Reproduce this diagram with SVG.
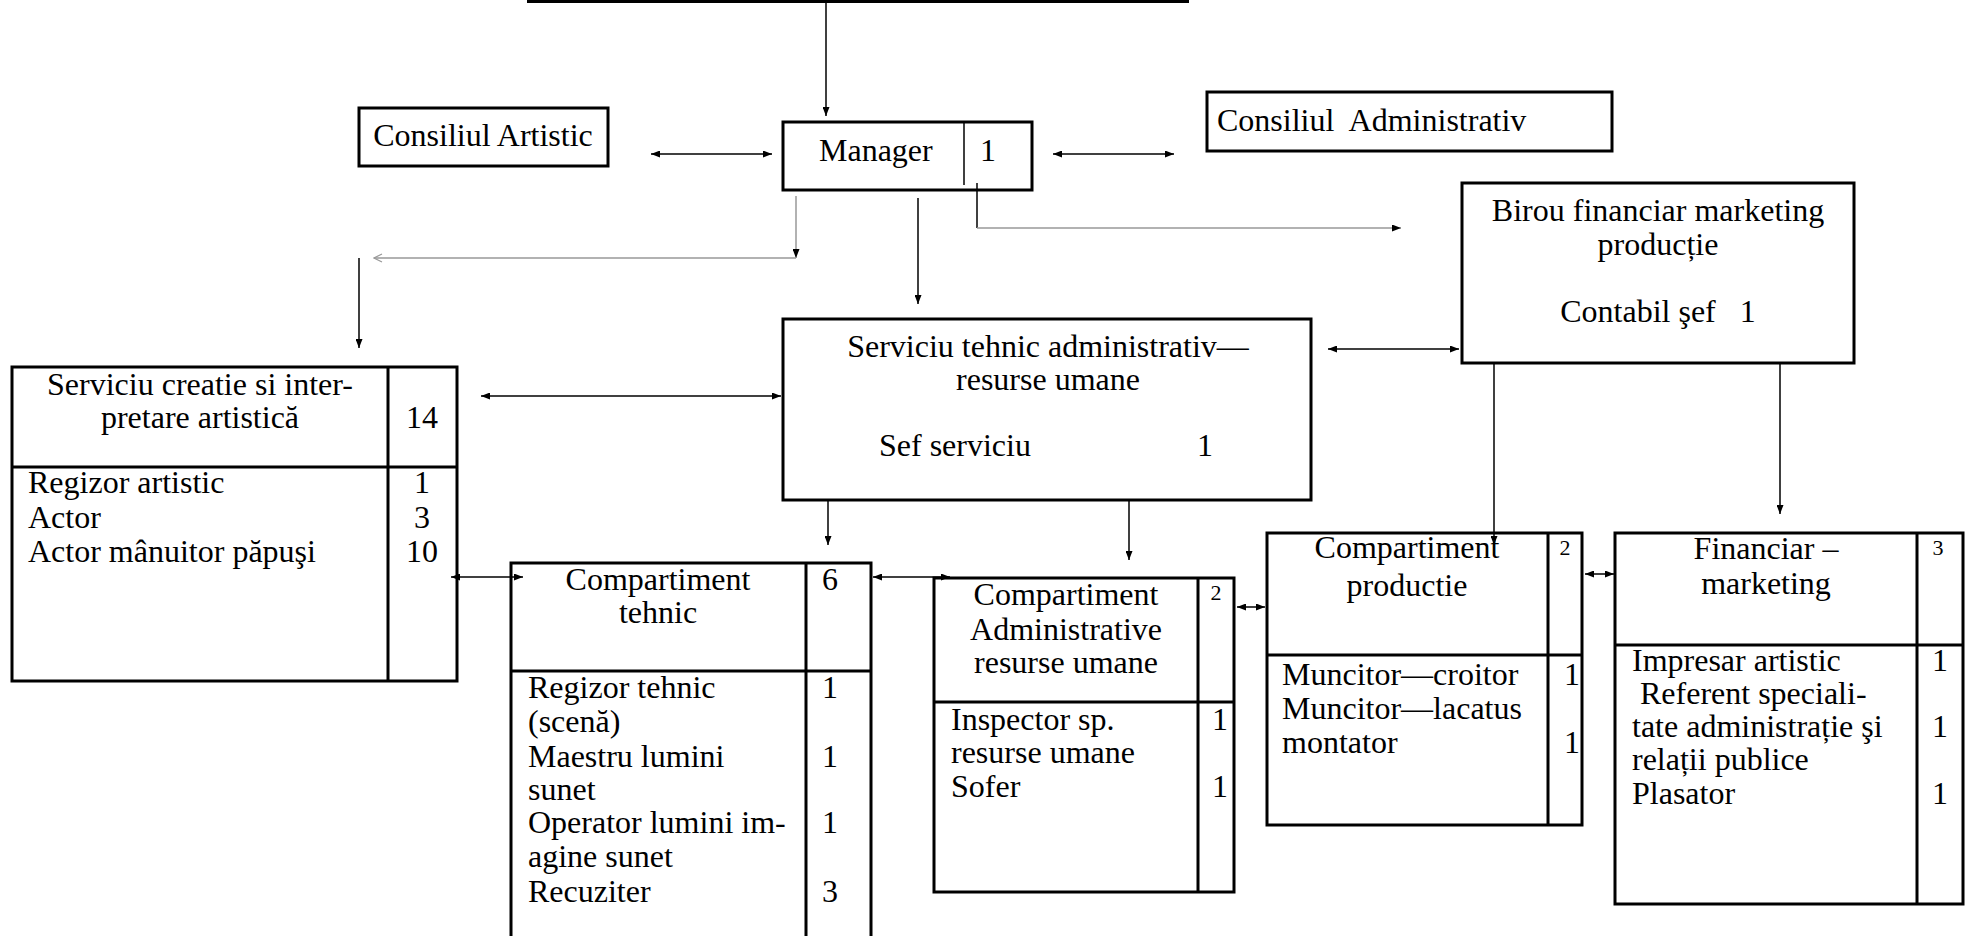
<svg xmlns="http://www.w3.org/2000/svg" width="1975" height="936" viewBox="0 0 1975 936">
<style>
.box{fill:none;stroke:#000;stroke-width:3}
.div{stroke:#000;stroke-width:3}
.thin{stroke:#000;stroke-width:1.5}
.ln{stroke:#000;stroke-width:1.5;fill:none}
.gl{stroke:#999;stroke-width:1.5;fill:none}
text{font-family:"Liberation Serif","Times New Roman",serif;font-size:32px;fill:#000;white-space:pre}
.c{text-anchor:middle}
.sm{font-size:22px}
</style>
<defs>
<marker id="ah" markerUnits="userSpaceOnUse" markerWidth="9" markerHeight="7" refX="9" refY="3.5" orient="auto-start-reverse"><path d="M0,0 L9,3.5 L0,7 z" fill="#000"/></marker>
<marker id="oh" markerUnits="userSpaceOnUse" markerWidth="10" markerHeight="10" refX="9" refY="5" orient="auto"><path d="M1,1 L9,5 L1,9" fill="none" stroke="#999" stroke-width="1.2"/></marker>
</defs>

<g id="top-node"><line x1="527" y1="1.5" x2="1189" y2="1.5" class="div"/></g>

<g id="consiliul-artistic">
<rect class="box" x="359" y="108" width="249" height="58"/>
<text class="c" x="483" y="146">Consiliul Artistic</text>
</g>

<g id="manager">
<rect class="box" x="783" y="122" width="249" height="68"/>
<line class="thin" x1="964" y1="122" x2="964" y2="185"/>
<text x="819" y="161">Manager</text>
<text x="980" y="161">1</text>
</g>

<g id="consiliul-administrativ">
<rect class="box" x="1207" y="92" width="405" height="59"/>
<text x="1217" y="131">Consiliul  Administrativ</text>
</g>

<g id="birou">
<rect class="box" x="1462" y="183" width="392" height="180"/>
<text class="c" x="1658" y="221">Birou financiar marketing</text>
<text class="c" x="1658" y="255">producție</text>
<text class="c" x="1658" y="322">Contabil şef   1</text>
</g>

<g id="serviciu-tehnic">
<rect class="box" x="783" y="319" width="528" height="181"/>
<text class="c" x="1048" y="357">Serviciu tehnic administrativ—</text>
<text class="c" x="1048" y="390">resurse umane</text>
<text x="879" y="456">Sef serviciu</text>
<text x="1197" y="456">1</text>
</g>

<g id="serviciu-creatie">
<rect class="box" x="12" y="367" width="445" height="314"/>
<line class="div" x1="388" y1="367" x2="388" y2="681"/>
<line class="div" x1="12" y1="467" x2="457" y2="467"/>
<text class="c" x="200" y="395">Serviciu creatie si inter-</text>
<text class="c" x="200" y="428">pretare artistică</text>
<text class="c" x="422" y="428">14</text>
<text x="28" y="493">Regizor artistic</text>
<text x="28" y="528">Actor</text>
<text x="28" y="562">Actor mânuitor păpuşi</text>
<text class="c" x="422" y="493">1</text>
<text class="c" x="422" y="528">3</text>
<text class="c" x="422" y="562">10</text>
</g>

<g id="compartiment-tehnic">
<rect class="box" x="511" y="563" width="360" height="400"/>
<line class="div" x1="806" y1="563" x2="806" y2="940"/>
<line class="div" x1="511" y1="671" x2="871" y2="671"/>
<text class="c" x="658" y="590">Compartiment</text>
<text class="c" x="658" y="623">tehnic</text>
<text class="c" x="830" y="590">6</text>
<text x="528" y="698">Regizor tehnic</text>
<text x="528" y="732">(scenă)</text>
<text x="528" y="767">Maestru lumini</text>
<text x="528" y="800">sunet</text>
<text x="528" y="833">Operator lumini im-</text>
<text x="528" y="867">agine sunet</text>
<text x="528" y="902">Recuziter</text>
<text class="c" x="830" y="698">1</text>
<text class="c" x="830" y="767">1</text>
<text class="c" x="830" y="833">1</text>
<text class="c" x="830" y="902">3</text>
</g>

<g id="compartiment-administrative">
<rect class="box" x="934" y="578" width="300" height="314"/>
<line class="div" x1="1198" y1="578" x2="1198" y2="892"/>
<line class="div" x1="934" y1="702" x2="1234" y2="702"/>
<text class="c" x="1066" y="605">Compartiment</text>
<text class="c" x="1066" y="640">Administrative</text>
<text class="c" x="1066" y="673">resurse umane</text>
<text class="c sm" x="1216" y="600">2</text>
<text x="951" y="730">Inspector sp.</text>
<text x="951" y="763">resurse umane</text>
<text x="951" y="797">Sofer</text>
<text class="c" x="1220" y="730">1</text>
<text class="c" x="1220" y="797">1</text>
</g>

<g id="compartiment-productie">
<rect class="box" x="1267" y="533" width="315" height="292"/>
<line class="div" x1="1548" y1="533" x2="1548" y2="825"/>
<line class="div" x1="1267" y1="655" x2="1582" y2="655"/>
<text class="c" x="1407" y="558">Compartiment</text>
<text class="c" x="1407" y="596">productie</text>
<text class="c sm" x="1565" y="555">2</text>
<text x="1282" y="685">Muncitor—croitor</text>
<text x="1282" y="719">Muncitor—lacatus</text>
<text x="1282" y="753">montator</text>
<text class="c" x="1572" y="685">1</text>
<text class="c" x="1572" y="753">1</text>
</g>

<g id="financiar-marketing">
<rect class="box" x="1615" y="533" width="348" height="371"/>
<line class="div" x1="1917" y1="533" x2="1917" y2="904"/>
<line class="div" x1="1615" y1="645" x2="1963" y2="645"/>
<text class="c" x="1766" y="559">Financiar –</text>
<text class="c" x="1766" y="594">marketing</text>
<text class="c sm" x="1938" y="555">3</text>
<text x="1632" y="671">Impresar artistic</text>
<text x="1632" y="704"> Referent speciali-</text>
<text x="1632" y="737">tate administrație şi</text>
<text x="1632" y="770">relații publice</text>
<text x="1632" y="804">Plasator</text>
<text class="c" x="1940" y="671">1</text>
<text class="c" x="1940" y="737">1</text>
<text class="c" x="1940" y="804">1</text>
</g>

<g id="connectors">
<line class="ln" x1="826" y1="3" x2="826" y2="116" marker-end="url(#ah)"/>
<line class="ln" x1="651" y1="154" x2="772" y2="154" marker-start="url(#ah)" marker-end="url(#ah)"/>
<line class="ln" x1="1053" y1="154" x2="1174" y2="154" marker-start="url(#ah)" marker-end="url(#ah)"/>
<line class="ln" x1="977" y1="183" x2="977" y2="228"/>
<line class="gl" x1="977" y1="228" x2="1401" y2="228" marker-end="url(#ah)"/>
<line class="gl" x1="796" y1="196" x2="796" y2="258" marker-end="url(#ah)"/>
<line class="gl" x1="796" y1="258" x2="374" y2="258" marker-end="url(#oh)"/>
<line class="ln" x1="359" y1="258" x2="359" y2="348" marker-end="url(#ah)"/>
<line class="ln" x1="918" y1="198" x2="918" y2="304" marker-end="url(#ah)"/>
<line class="ln" x1="1328" y1="349" x2="1459" y2="349" marker-start="url(#ah)" marker-end="url(#ah)"/>
<line class="ln" x1="481" y1="396" x2="781" y2="396" marker-start="url(#ah)" marker-end="url(#ah)"/>
<line class="ln" x1="451" y1="577" x2="523" y2="577" marker-start="url(#ah)" marker-end="url(#ah)"/>
<line class="ln" x1="873" y1="577" x2="950" y2="577" marker-start="url(#ah)" marker-end="url(#ah)"/>
<line class="ln" x1="828" y1="500" x2="828" y2="545" marker-end="url(#ah)"/>
<line class="ln" x1="1129" y1="500" x2="1129" y2="560" marker-end="url(#ah)"/>
<line class="ln" x1="1237" y1="607" x2="1265" y2="607" marker-start="url(#ah)" marker-end="url(#ah)"/>
<line class="ln" x1="1494" y1="363" x2="1494" y2="545" marker-end="url(#ah)"/>
<line class="ln" x1="1780" y1="363" x2="1780" y2="514" marker-end="url(#ah)"/>
<line class="ln" x1="1585" y1="574" x2="1614" y2="574" marker-start="url(#ah)" marker-end="url(#ah)"/>
</g>
</svg>
